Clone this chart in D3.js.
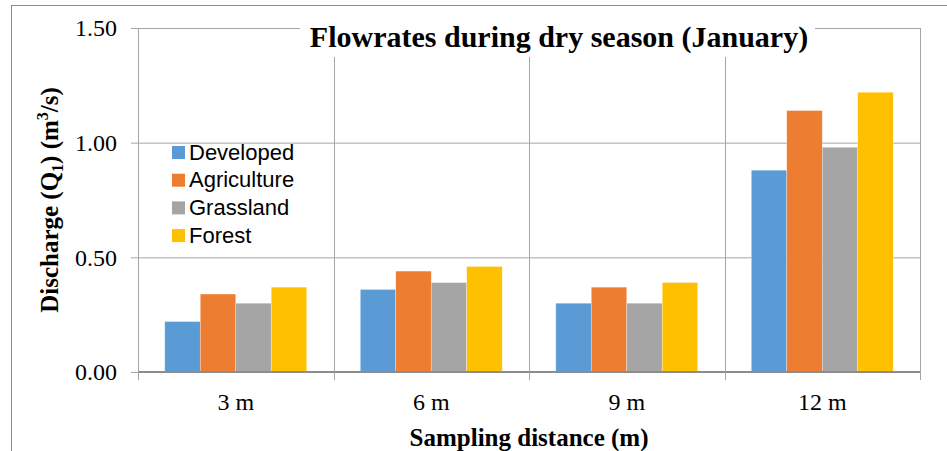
<!DOCTYPE html>
<html>
<head>
<meta charset="utf-8">
<script src="https://cdn.jsdelivr.net/npm/d3@7"></script>
<style>
  body { margin: 0; background: #fff; }
  .serif { font-family: "Liberation Serif", "Times New Roman", serif; }
</style>
</head>
<body>
<div id="chart"></div>
<script>
var categories = ["3 m", "6 m", "9 m", "12 m"];
var seriesNames = ["Developed", "Agriculture", "Grassland", "Forest"];
var developed = [0.22, 0.36, 0.30, 0.88];
var agriculture = [0.34, 0.44, 0.37, 1.14];
var grassland = [0.30, 0.39, 0.30, 0.98];
var forest = [0.37, 0.46, 0.39, 1.22];
var yTicks = [0, 0.5, 1.0, 1.5];
var colors = ["#5B9BD5", "#ED7D31", "#A5A5A5", "#FFC000"];

var series = [developed, agriculture, grassland, forest];
var data = categories.map(function(c, i) {
  return { cat: c, values: seriesNames.map(function(s, j) { return { name: s, value: series[j][i] }; }) };
});

var W = 947, H = 451;
var margin = {top: 28, right: 27, bottom: 79, left: 138},
    width = W - margin.left - margin.right,
    height = H - margin.top - margin.bottom;

var root = d3.select("#chart").append("svg")
  .attr("width", W).attr("height", H);

// outer chart frame
root.append("rect")
  .attr("x", 11.5).attr("y", 5.5)
  .attr("width", 960).attr("height", 470)
  .attr("fill", "none").attr("stroke", "#8c8c8c").attr("stroke-width", 1);

var svg = root.append("g")
  .attr("transform", "translate(" + margin.left + "," + margin.top + ")");

var x0 = d3.scaleBand().domain(categories).range([0, width]).padding(0);
var bw = x0.bandwidth();
var x1 = d3.scaleBand().domain(seriesNames).range([bw * 0.137, bw * 0.863]).padding(0);
var y = d3.scaleLinear().domain([0, 1.5]).range([height, 0]);

// horizontal gridlines
svg.append("g")
  .call(d3.axisLeft(y).tickValues(yTicks).tickSize(-width).tickFormat(""))
  .call(function(g) {
    g.select(".domain").remove();
    g.selectAll("line").attr("stroke", "#a6a6a6");
  });

// vertical gridlines at category boundaries
var bounds = categories.map(function(c) { return x0(c); }).concat([width]);
svg.append("g").selectAll("line").data(bounds.slice(1)).enter().append("line")
  .attr("x1", function(d) { return Math.round(d) + 0.5; })
  .attr("x2", function(d) { return Math.round(d) + 0.5; })
  .attr("y1", 0).attr("y2", height)
  .attr("stroke", "#a6a6a6");

// bars
var groups = svg.append("g").selectAll("g").data(data).enter().append("g")
  .attr("transform", function(d) { return "translate(" + x0(d.cat) + ",0)"; });
groups.selectAll("rect").data(function(d) { return d.values; }).enter().append("rect")
  .attr("x", function(d) { return x1(d.name); })
  .attr("y", function(d) { return y(d.value); })
  .attr("width", x1.bandwidth())
  .attr("height", function(d) { return height - y(d.value); })
  .attr("fill", function(d, i) { return colors[i]; })
  .attr("stroke", "#ffffff").attr("stroke-opacity", 0.5).attr("stroke-width", 0.6);

// y axis
svg.append("g")
  .attr("class", "serif")
  .call(d3.axisLeft(y).tickValues(yTicks).tickFormat(d3.format(".2f")).tickSize(7).tickSizeOuter(0).tickPadding(14))
  .call(function(g) {
    g.select(".domain").attr("stroke", "#a6a6a6");
    g.selectAll("line").attr("stroke", "#a6a6a6");
    g.selectAll("text").attr("font-size", "24px").attr("fill", "#000")
      .attr("font-family", "Liberation Serif, Times New Roman, serif");
  });

// x axis line + ticks at boundaries
var xg = svg.append("g").attr("transform", "translate(0," + height + ")");
xg.append("line").attr("x1", 0).attr("x2", width).attr("y1", 0).attr("y2", 0)
  .attr("stroke", "#8c8c8c").attr("stroke-width", 2);
xg.selectAll(".bt").data(bounds).enter().append("line")
  .attr("x1", function(d) { return Math.round(d) + 0.5; })
  .attr("x2", function(d) { return Math.round(d) + 0.5; })
  .attr("y1", 0).attr("y2", 8)
  .attr("stroke", "#a6a6a6");
xg.call(d3.axisBottom(x0).tickSize(0).tickPadding(0))
  .call(function(g) {
    g.select(".domain").remove();
    g.selectAll("text").attr("font-size", "24px").attr("fill", "#000")
      .attr("font-family", "Liberation Serif, Times New Roman, serif")
      .attr("dy", null).attr("y", 38);
  });

// plot border (top & right)
svg.append("line").attr("x1", 0).attr("x2", width).attr("y1", 0.5).attr("y2", 0.5).attr("stroke", "#a6a6a6");
svg.append("line").attr("x1", width + 0.5).attr("x2", width + 0.5).attr("y1", 0).attr("y2", height).attr("stroke", "#a6a6a6");

// title with white box
root.append("rect").attr("x", 300).attr("y", 14).attr("width", 515).attr("height", 43).attr("fill", "#fff");
root.append("text")
  .attr("x", 559).attr("y", 47)
  .attr("text-anchor", "middle")
  .attr("font-family", "Liberation Serif, Times New Roman, serif")
  .attr("font-weight", "bold").attr("font-size", "30px")
  .text("Flowrates during dry season (January)");

// x axis title
root.append("text")
  .attr("x", margin.left + width / 2).attr("y", 446)
  .attr("text-anchor", "middle")
  .attr("font-family", "Liberation Serif, Times New Roman, serif")
  .attr("font-weight", "bold").attr("font-size", "25px")
  .text("Sampling distance (m)");

// y axis title
var yt = root.append("text")
  .attr("transform", "translate(58," + (margin.top + height / 2) + ") rotate(-90)")
  .attr("text-anchor", "middle")
  .attr("font-family", "Liberation Serif, Times New Roman, serif")
  .attr("font-weight", "bold").attr("font-size", "25px");
yt.append("tspan").text("Discharge (Q");
yt.append("tspan").attr("font-size", "16px").attr("dy", 5).text("1");
yt.append("tspan").attr("dy", -5).text(") (m");
yt.append("tspan").attr("font-size", "16px").attr("dy", -10).text("3");
yt.append("tspan").attr("dy", 10).text("/s)");

// legend
var legend = root.append("g").attr("transform", "translate(172,152)");
var li = legend.selectAll("g").data(seriesNames).enter().append("g")
  .attr("transform", function(d, i) { return "translate(0," + (i * 27.7) + ")"; });
li.append("rect").attr("x", 0).attr("y", -6).attr("width", 13).attr("height", 13)
  .attr("fill", function(d, i) { return colors[i]; });
li.append("text").attr("x", 17).attr("y", 0).attr("dy", "0.35em")
  .attr("font-family", "Liberation Sans, Arial, sans-serif").attr("font-size", "22px")
  .attr("fill", "#000")
  .text(function(d) { return d; });
</script>
</body>
</html>
